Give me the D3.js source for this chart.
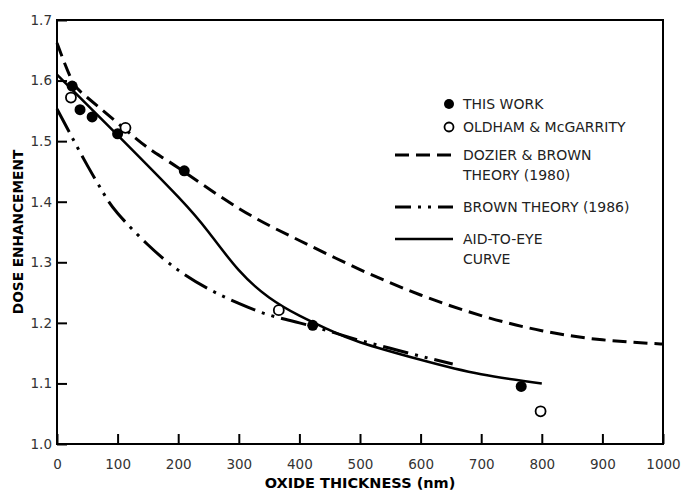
<!DOCTYPE html>
<html>
<head>
<meta charset="utf-8">
<script src="https://cdn.jsdelivr.net/npm/d3@7"></script>
<style>
  body { margin: 0; background: #fff; }
  svg { display: block; font-family: "DejaVu Sans", Verdana, sans-serif; }
</style>
</head>
<body>
<svg width="681" height="491"></svg>
<script>
// measured points
const thisWorkX = [25, 38, 58, 100, 210, 422, 766];
const thisWorkY = [1.591, 1.552, 1.540, 1.512, 1.451, 1.196, 1.095];
const oldhamX = [23, 113, 366, 798];
const oldhamY = [1.572, 1.522, 1.221, 1.054];

// theory curves
const dozierX = [0, 25, 50, 100, 150, 200, 300, 400, 500, 600, 700, 800, 900, 1000];
const dozierY = [1.662, 1.600, 1.572, 1.530, 1.489, 1.456, 1.389, 1.336, 1.288, 1.246, 1.212, 1.187, 1.172, 1.165];
const brownX = [0, 25, 50, 75, 100, 150, 200, 250, 300, 350, 400, 450, 500, 550, 600, 653];
const brownY = [1.553, 1.506, 1.460, 1.417, 1.381, 1.329, 1.287, 1.256, 1.232, 1.213, 1.200, 1.186, 1.171, 1.158, 1.145, 1.132];
const eyeX = [0, 100, 200, 250, 300, 350, 400, 450, 500, 600, 700, 800];
const eyeY = [1.61, 1.510, 1.408, 1.350, 1.287, 1.242, 1.212, 1.188, 1.168, 1.139, 1.115, 1.100];

const xTicks = [0, 100, 200, 300, 400, 500, 600, 700, 800, 900, 1000];
const yTicks = [1.0, 1.1, 1.2, 1.3, 1.4, 1.5, 1.6, 1.7];

const svg = d3.select("svg");
const margin = {left: 57, top: 20, right: 18, bottom: 47};
const W = 681 - margin.left - margin.right;
const H = 491 - margin.top - margin.bottom;

const x = d3.scaleLinear().domain([0, 1000]).range([0, W]);
const y = d3.scaleLinear().domain([1.0, 1.7]).range([H, 0]);

const g = svg.append("g")
    .attr("transform", "translate(" + margin.left + "," + margin.top + ")");

// curves
const line = d3.line()
    .x(d => x(d[0]))
    .y(d => y(d[1]))
    .curve(d3.curveNatural);

const curves = [
  {xs: dozierX, ys: dozierY, dash: "14,7", w: 3},
  {xs: brownX, ys: brownY, dash: "26,7,3,7,3,7", w: 3},
  {xs: eyeX, ys: eyeY, dash: null, w: 2.5}
];

curves.forEach(c => {
  g.append("path")
      .datum(c.xs.map((v, i) => [v, c.ys[i]]))
      .attr("d", line)
      .attr("fill", "none")
      .attr("stroke", "#000")
      .attr("stroke-width", c.w)
      .attr("stroke-dasharray", c.dash);
});

// points
g.selectAll(".thisWork")
    .data(thisWorkX.map((v, i) => [v, thisWorkY[i]]))
    .enter().append("circle")
    .attr("cx", d => x(d[0]))
    .attr("cy", d => y(d[1]))
    .attr("r", 5.5)
    .attr("fill", "#000");

g.selectAll(".oldham")
    .data(oldhamX.map((v, i) => [v, oldhamY[i]]))
    .enter().append("circle")
    .attr("cx", d => x(d[0]))
    .attr("cy", d => y(d[1]))
    .attr("r", 5)
    .attr("fill", "#fff")
    .attr("stroke", "#000")
    .attr("stroke-width", 1.8);

// axes with inward ticks
const xAxis = g.append("g")
    .attr("transform", "translate(0," + H + ")")
    .call(d3.axisBottom(x).tickValues(xTicks).tickSizeInner(-10).tickSizeOuter(0).tickPadding(15)
      .tickFormat(d3.format("d")));
const yAxis = g.append("g")
    .call(d3.axisLeft(y).tickValues(yTicks).tickSizeInner(-10).tickSizeOuter(0).tickPadding(5)
      .tickFormat(d3.format(".1f")));

[xAxis, yAxis].forEach(a => {
  a.select(".domain").remove();
  a.selectAll(".tick line").attr("stroke", "#000").attr("stroke-width", 2);
  a.selectAll(".tick text")
      .attr("font-size", 13.5)
      .attr("font-family", "DejaVu Sans, Verdana, sans-serif")
      .attr("fill", "#333");
});

// frame
g.append("rect")
    .attr("x", 0).attr("y", 0)
    .attr("width", W).attr("height", H)
    .attr("fill", "none")
    .attr("stroke", "#000")
    .attr("stroke-width", 2);

// axis titles
svg.append("text")
    .attr("x", 360).attr("y", 488)
    .attr("text-anchor", "middle")
    .attr("font-weight", "bold")
    .attr("font-size", 14.5)
    .text("OXIDE THICKNESS (nm)");

svg.append("text")
    .attr("transform", "translate(22.5,232) rotate(-90)")
    .attr("text-anchor", "middle")
    .attr("font-weight", "bold")
    .attr("font-size", 13.7)
    .text("DOSE ENHANCEMENT");

// legend
const legend = svg.append("g").attr("font-size", 14).attr("fill", "#222");
const lx = 395, lx2 = 453, tx = 463;

legend.append("circle").attr("cx", 449).attr("cy", 104).attr("r", 5).attr("fill", "#000");
legend.append("circle").attr("cx", 449).attr("cy", 127).attr("r", 4.5)
    .attr("fill", "#fff").attr("stroke", "#000").attr("stroke-width", 1.8);

const legRows = [
  {y: 104, lines: ["THIS WORK"]},
  {y: 127, lines: ["OLDHAM & McGARRITY"]},
  {y: 155, lines: ["DOZIER & BROWN", "THEORY (1980)"], dash: "14,7", w: 3},
  {y: 207, lines: ["BROWN THEORY (1986)"], dash: "16,7,3,7,3,7", w: 3},
  {y: 239, lines: ["AID-TO-EYE", "CURVE"], dash: null, w: 2.5}
];

legRows.forEach(r => {
  if (r.w) {
    legend.append("line")
        .attr("x1", lx).attr("x2", lx2)
        .attr("y1", r.y).attr("y2", r.y)
        .attr("stroke", "#000")
        .attr("stroke-width", r.w)
        .attr("stroke-dasharray", r.dash);
  }
  r.lines.forEach((t, i) => {
    legend.append("text")
        .attr("x", tx)
        .attr("y", r.y + 5 + i * 20)
        .text(t);
  });
});
</script>
</body>
</html>
